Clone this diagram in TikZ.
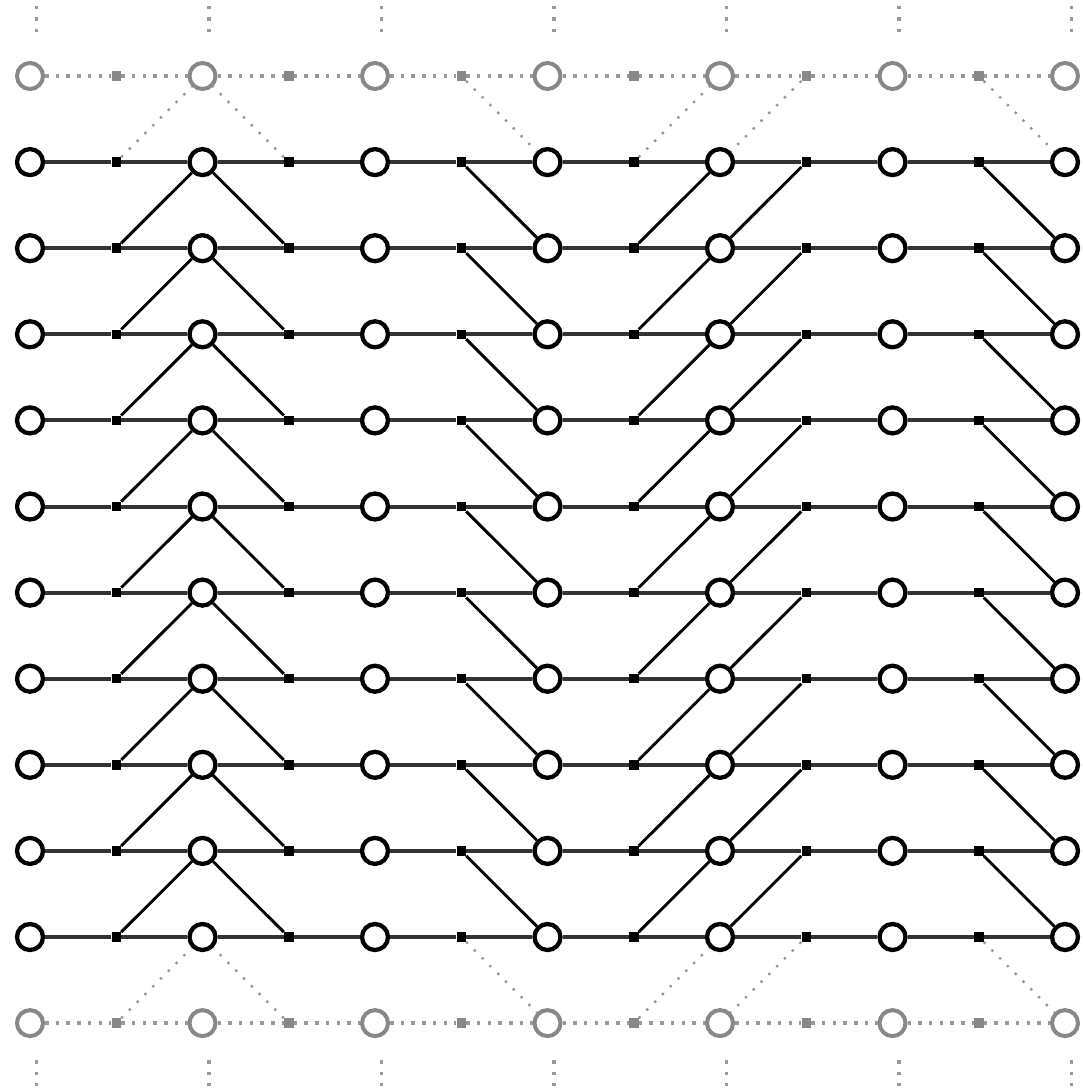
\documentclass[tikz,border=0pt]{standalone}
\definecolor{ringgray}{HTML}{888888}
\definecolor{dotgray}{HTML}{999999}
\definecolor{hline}{HTML}{333333}
\begin{document}
\begin{tikzpicture}[x=1pt,y=-1pt,
  bcirc/.style={circle,draw=black,line width=4.3pt,fill=white,minimum size=26pt,inner sep=0pt},
  gcirc/.style={circle,draw=ringgray,line width=4pt,fill=white,minimum size=26pt,inner sep=0pt},
  bsq/.style={rectangle,fill=black,minimum size=9.5pt,inner sep=0pt},
  gsq/.style={rectangle,fill=ringgray,minimum size=9.5pt,inner sep=0pt},
  hsolid/.style={draw=hline,line width=4pt},
  hdot/.style={draw=dotgray,line width=4pt,dash pattern=on 3.5pt off 7.2pt},
  dsolid/.style={draw=black,line width=2.9pt},
  ddot/.style={draw=dotgray,line width=2.4pt,dash pattern=on 2.4pt off 8.6pt},
  vdot/.style={draw=dotgray,line width=3.5pt,dash pattern=on 3.5pt off 8pt}]
\useasboundingbox (0,0) rectangle (1082,1090);
\fill[white] (0,0) rectangle (1082,1090);
% nodes: gray rows
\foreach \r in {0,11}{
  \foreach \i in {0,...,6}{\node[gcirc] (c\i-\r) at ({30+172.5*\i},{76+86.1*\r}) {};}
  \foreach \i in {0,...,5}{\node[gsq] (s\i-\r) at ({116.25+172.5*\i},{76+86.1*\r}) {};}
}
% nodes: black rows
\foreach \r in {1,...,10}{
  \foreach \i in {0,...,6}{\node[bcirc] (c\i-\r) at ({30+172.5*\i},{76+86.1*\r}) {};}
  \foreach \i in {0,...,5}{\node[bsq] (s\i-\r) at ({116.25+172.5*\i},{76+86.1*\r}) {};}
}
% horizontal connectors
\foreach \r in {0,11}{
  \foreach \i in {0,...,5}{
    \pgfmathtruncatemacro\j{\i+1}
    \draw[hdot] (c\i-\r) -- (s\i-\r);
    \draw[hdot] (s\i-\r) -- (c\j-\r);
  }
}
\foreach \r in {1,...,10}{
  \foreach \i in {0,...,5}{
    \pgfmathtruncatemacro\j{\i+1}
    \draw[hsolid] (c\i-\r) -- (s\i-\r);
    \draw[hsolid] (s\i-\r) -- (c\j-\r);
  }
}
% diagonal connectors
\foreach \sq/\ci/\d in {0/1/-1, 1/1/-1, 2/3/1, 3/4/-1, 4/4/1, 5/6/1}{
  \foreach \r in {0,...,11}{
    \pgfmathtruncatemacro\rr{\r+\d}
    \pgfmathtruncatemacro\ok{and(\rr>=0,\rr<=11)}
    \pgfmathtruncatemacro\isg{or(or(\r==0,\r==11),or(\rr==0,\rr==11))}
    \ifnum\ok=1
      \ifnum\isg=1
        \draw[ddot] (s\sq-\r) -- (c\ci-\rr);
      \else
        \draw[dsolid] (s\sq-\r) -- (c\ci-\rr);
      \fi
    \fi
  }
}
% vertical dotted stubs
\foreach \i in {0,...,6}{
  \coordinate (ta\i) at ({36.5+172.5*\i},5.5);
  \coordinate (tb\i) at ({36.5+172.5*\i},32);
  \coordinate (ba\i) at ({36.5+172.5*\i},1060);
  \coordinate (bb\i) at ({36.5+172.5*\i},1086);
  \draw[vdot] (ta\i) -- (tb\i);
  \draw[vdot] (ba\i) -- (bb\i);
}
\end{tikzpicture}
\end{document}
